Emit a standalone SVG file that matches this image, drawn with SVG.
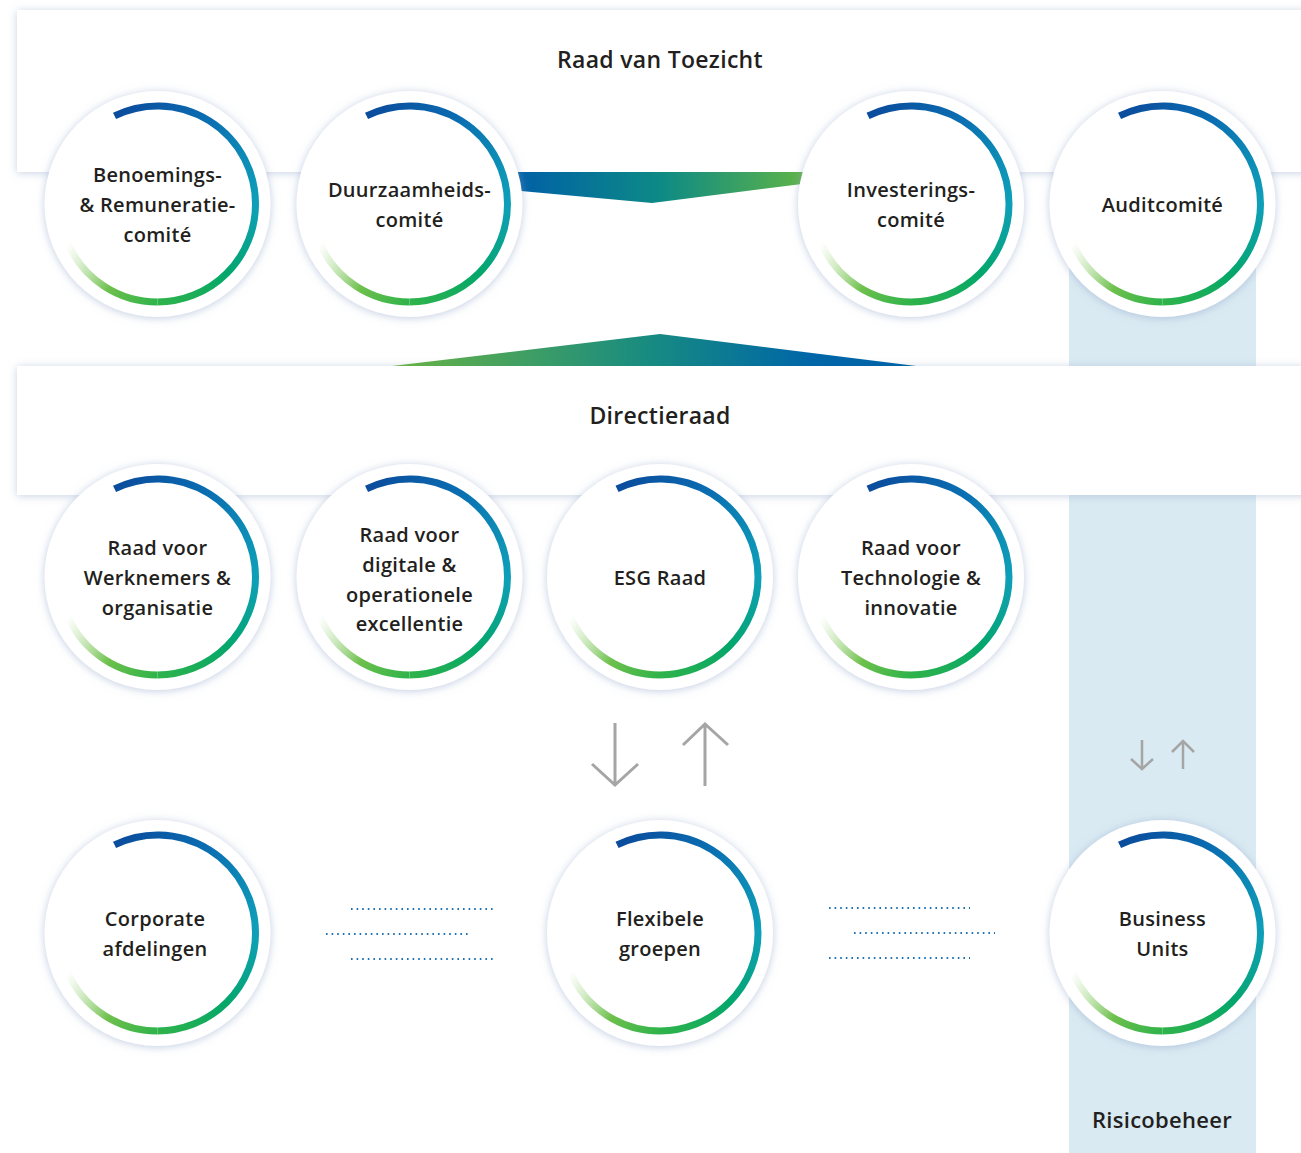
<svg xmlns="http://www.w3.org/2000/svg" xmlns:xlink="http://www.w3.org/1999/xlink" width="1301" height="1153" viewBox="0 0 1301 1153">
<defs>
<style>
.lbl{font-family:"Open Sans","Liberation Sans",sans-serif;font-weight:600;font-size:20px;fill:#231f20;text-anchor:middle;letter-spacing:0.3px}
.ttl{font-family:"Open Sans","Liberation Sans",sans-serif;font-weight:600;font-size:23px;fill:#231f20;text-anchor:middle;letter-spacing:0.3px}
.panel{fill:#ffffff;filter:url(#pshadow)}
.arr{fill:none;stroke:#a5a5a5;stroke-width:3}
.arrs{fill:none;stroke:#a5a5a5;stroke-width:2.5}
.dots{fill:none;stroke:#1f72b4;stroke-width:1.8;stroke-dasharray:1.6 4}
</style>
<filter id="pshadow" x="-5%" y="-30%" width="110%" height="160%">
<feDropShadow dx="0" dy="1" stdDeviation="4" flood-color="#9aaccc" flood-opacity="0.55"/>
</filter>
<filter id="cshadow" x="-20%" y="-20%" width="140%" height="140%">
<feDropShadow dx="0" dy="1" stdDeviation="4.5" flood-color="#8fa3c8" flood-opacity="0.55"/>
</filter>
<linearGradient id="gA" gradientUnits="userSpaceOnUse" x1="-43" y1="-88" x2="98" y2="0">
<stop offset="0" stop-color="#0b4c9d"/>
<stop offset="0.5" stop-color="#0a6fb2"/>
<stop offset="1" stop-color="#0e9fb8"/>
</linearGradient>
<linearGradient id="gB" gradientUnits="userSpaceOnUse" x1="98" y1="0" x2="0" y2="98">
<stop offset="0" stop-color="#0e9fb8"/>
<stop offset="0.5" stop-color="#03a76a"/>
<stop offset="1" stop-color="#2fb34a"/>
</linearGradient>
<linearGradient id="gC" gradientUnits="userSpaceOnUse" x1="0" y1="98" x2="-89.5" y2="39.9">
<stop offset="0" stop-color="#2fb34a"/>
<stop offset="0.45" stop-color="#6dc04c"/>
<stop offset="1" stop-color="#a9d98a" stop-opacity="0"/>
</linearGradient>
<linearGradient id="gTop" x1="0" y1="0" x2="1" y2="0">
<stop offset="0" stop-color="#005ea8"/>
<stop offset="0.5" stop-color="#0d8a86"/>
<stop offset="1" stop-color="#62b545"/>
</linearGradient>
<linearGradient id="gBot" x1="0" y1="0" x2="1" y2="0">
<stop offset="0" stop-color="#6ab344"/>
<stop offset="0.5" stop-color="#168a82"/>
<stop offset="0.8" stop-color="#0066a8"/>
<stop offset="1" stop-color="#0062a6"/>
</linearGradient>
<g id="ring">
<circle cx="0" cy="0" r="113" fill="#ffffff" filter="url(#cshadow)"/>
<path d="M -42.96 -88.08 A 98 98 0 0 1 98 0" fill="none" stroke="url(#gA)" stroke-width="7"/>
<path d="M 98 0 A 98 98 0 0 1 0 98" fill="none" stroke="url(#gB)" stroke-width="7"/>
<path d="M 0 98 A 98 98 0 0 1 -89.53 39.86" fill="none" stroke="url(#gC)" stroke-width="7"/>
</g>
</defs>

<rect x="0" y="0" width="1301" height="1153" fill="#ffffff"/>

<g id="risicobeheer-column">
<rect x="1069" y="172" width="187" height="981" fill="#d9eaf2"/>
<text class="lbl" x="1162" y="1128" font-size="22" style="font-size:22px">Risicobeheer</text>
</g>

<g id="raad-van-toezicht">
<rect class="panel" x="17" y="10" width="1300" height="162"/>
<text class="ttl" x="660" y="68">Raad van Toezicht</text>
</g>

<g id="directieraad">
<rect class="panel" x="17" y="366" width="1300" height="129"/>
<text class="ttl" x="660" y="424">Directieraad</text>
</g>

<g id="connectors">
<polygon points="510,172 810,172 810,183 652,203 510,190" fill="url(#gTop)"/>
<polygon points="392,366 660,334 916,366" fill="url(#gBot)"/>
<path class="arr" d="M615 723 V785 M592 764 L615 785 L638 764"/>
<path class="arr" d="M705 786 V724 M683 745 L705 724 L728 745"/>
<path class="arrs" d="M1142 740 V769 M1131 759 L1142 769 L1153 759"/>
<path class="arrs" d="M1183 769 V741 M1172 752 L1183 741 L1194 752"/>
<path class="dots" d="M351 909 H493 M326 934 H468 M351 959 H493"/>
<path class="dots" d="M829 908 H970 M854 933 H995 M829 958 H970"/>
</g>

<g id="benoemings">
<use xlink:href="#ring" x="157.5" y="204"/>
<text class="lbl" x="157.5" y="182">Benoemings-<tspan x="157.5" dy="30">&amp; Remuneratie-</tspan><tspan x="157.5" dy="30">comité</tspan></text>
</g>
<g id="duurzaamheids">
<use xlink:href="#ring" x="409.5" y="204"/>
<text class="lbl" x="409.5" y="197">Duurzaamheids-<tspan x="409.5" dy="30">comité</tspan></text>
</g>
<g id="investerings">
<use xlink:href="#ring" x="911" y="204"/>
<text class="lbl" x="911" y="197">Investerings-<tspan x="911" dy="30">comité</tspan></text>
</g>
<g id="auditcomite">
<use xlink:href="#ring" x="1162.5" y="204"/>
<text class="lbl" x="1162.5" y="212">Auditcomité</text>
</g>

<g id="werknemers">
<use xlink:href="#ring" x="157.5" y="577"/>
<text class="lbl" x="157.5" y="555">Raad voor<tspan x="157.5" dy="30">Werknemers &amp;</tspan><tspan x="157.5" dy="30">organisatie</tspan></text>
</g>
<g id="digitale">
<use xlink:href="#ring" x="409.5" y="577"/>
<text class="lbl" x="409.5" y="542">Raad voor<tspan x="409.5" dy="30">digitale &amp;</tspan><tspan x="409.5" dy="30">operationele</tspan><tspan x="409.5" dy="29">excellentie</tspan></text>
</g>
<g id="esg">
<use xlink:href="#ring" x="660" y="577"/>
<text class="lbl" x="660" y="585">ESG Raad</text>
</g>
<g id="technologie">
<use xlink:href="#ring" x="911" y="577"/>
<text class="lbl" x="911" y="555">Raad voor<tspan x="911" dy="30">Technologie &amp;</tspan><tspan x="911" dy="30">innovatie</tspan></text>
</g>

<g id="corporate">
<use xlink:href="#ring" x="157.5" y="933"/>
<text class="lbl" x="155" y="926">Corporate<tspan x="155" dy="30">afdelingen</tspan></text>
</g>
<g id="flexibele">
<use xlink:href="#ring" x="660" y="933"/>
<text class="lbl" x="660" y="926">Flexibele<tspan x="660" dy="30">groepen</tspan></text>
</g>
<g id="business">
<use xlink:href="#ring" x="1162.5" y="933"/>
<text class="lbl" x="1162.5" y="926">Business<tspan x="1162.5" dy="30">Units</tspan></text>
</g>
</svg>
